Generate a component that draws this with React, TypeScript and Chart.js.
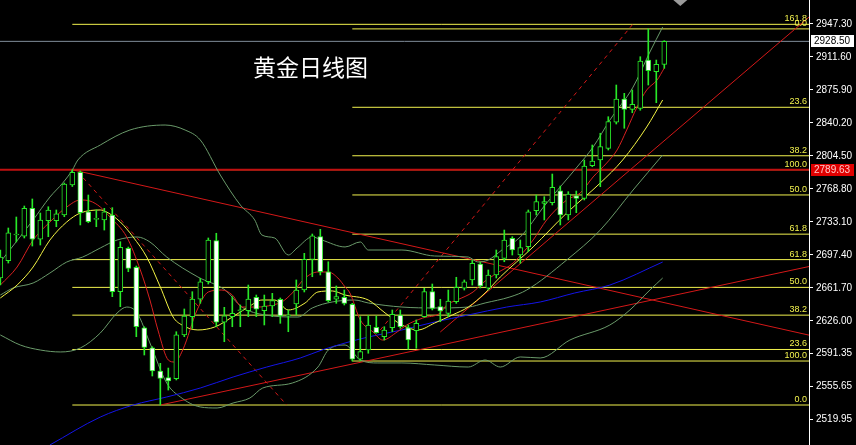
import React, { useEffect, useRef } from 'react';
import { Chart, registerables } from 'chart.js';

Chart.register(...registerables);

// ---------- candles (daily gold) ----------
const candleOpen = [
  2672.5, 2691.2, 2719.0, 2717.9, 2747.9, 2714.4, 2734.5, 2734.5, 2740.7, 2773.1,
  2786.9, 2744.2, 2735.9, 2735.3, 2740.7, 2657.7, 2704.6, 2684.1, 2618.7, 2597.1,
  2571.9, 2564.7, 2563.6, 2610.9, 2630.7, 2649.5, 2668.5, 2712.9, 2624.6, 2630.7,
  2637.1, 2637.1, 2651.6, 2637.1, 2642.2, 2649.5, 2631.4, 2644.4, 2659.5, 2692.7,
  2717.2, 2679.3, 2649.5, 2651.6, 2644.1, 2584.6, 2594.6, 2619.2, 2609.0, 2618.7,
  2632.5, 2618.7, 2615.5, 2630.7, 2657.7, 2641.5, 2634.3, 2646.9, 2661.4, 2670.4,
  2687.7, 2661.4, 2675.8, 2693.8, 2715.5, 2697.4, 2706.4, 2745.3, 2753.3, 2753.9,
  2766.9, 2740.7, 2761.5, 2758.7, 2794.0, 2800.2, 2812.8, 2841.0, 2866.2, 2855.0,
  2856.1, 2908.3, 2895.7, 2903.7,
];
const candleHigh = [
  2702.8, 2726.6, 2738.5, 2750.4, 2758.0, 2742.8, 2749.6, 2746.1, 2775.3, 2789.6,
  2788.3, 2762.3, 2746.1, 2747.9, 2748.6, 2711.8, 2706.0, 2685.5, 2619.8, 2598.2,
  2580.2, 2575.1, 2614.4, 2639.0, 2657.7, 2672.2, 2715.8, 2720.9, 2640.8, 2652.3,
  2643.3, 2664.9, 2654.1, 2654.1, 2655.9, 2650.9, 2637.9, 2670.4, 2699.2, 2720.1,
  2725.2, 2690.1, 2663.9, 2659.5, 2645.1, 2630.7, 2631.7, 2631.4, 2619.8, 2637.9,
  2637.9, 2621.7, 2627.1, 2661.4, 2666.0, 2649.5, 2659.5, 2673.3, 2670.4, 2692.0,
  2689.8, 2681.2, 2702.8, 2724.4, 2717.2, 2713.6, 2746.1, 2762.3, 2760.5, 2785.0,
  2772.0, 2765.9, 2766.6, 2800.2, 2816.4, 2829.1, 2847.0, 2881.3, 2872.3, 2875.9,
  2911.9, 2942.0, 2908.3, 2929.2,
];
const candleLow = [
  2664.9, 2688.7, 2711.5, 2715.8, 2707.1, 2708.2, 2717.2, 2728.0, 2738.8, 2771.5,
  2729.9, 2732.3, 2728.0, 2724.4, 2652.3, 2641.5, 2679.3, 2609.0, 2589.2, 2566.5,
  2535.1, 2551.3, 2562.2, 2609.0, 2618.1, 2645.1, 2666.0, 2619.8, 2603.6, 2619.8,
  2619.8, 2630.7, 2630.7, 2621.7, 2630.7, 2623.5, 2614.4, 2632.5, 2657.4, 2673.9,
  2675.8, 2646.6, 2645.1, 2643.3, 2582.7, 2583.0, 2591.1, 2612.7, 2605.4, 2614.4,
  2618.1, 2595.4, 2596.5, 2630.0, 2637.9, 2625.2, 2630.7, 2645.1, 2659.5, 2664.9,
  2661.7, 2659.5, 2672.5, 2690.1, 2697.4, 2688.4, 2700.9, 2740.7, 2735.3, 2751.5,
  2729.9, 2735.3, 2743.2, 2756.9, 2792.9, 2771.3, 2811.0, 2839.1, 2834.5, 2851.3,
  2854.0, 2881.3, 2862.2, 2899.4,
];
const candleClose = [
  2695.2, 2721.5, 2720.1, 2747.9, 2714.4, 2735.3, 2746.1, 2741.8, 2774.2, 2786.9,
  2743.2, 2733.4, 2736.6, 2744.2, 2657.7, 2705.7, 2683.0, 2619.8, 2597.5, 2571.9,
  2564.0, 2561.1, 2610.9, 2631.4, 2649.8, 2668.5, 2713.6, 2624.6, 2631.7, 2634.3,
  2637.9, 2649.8, 2638.7, 2642.2, 2648.0, 2631.4, 2632.2, 2659.5, 2692.7, 2718.0,
  2679.3, 2648.0, 2652.3, 2645.1, 2584.6, 2592.8, 2621.7, 2613.3, 2616.2, 2633.2,
  2619.8, 2605.4, 2623.5, 2657.7, 2639.7, 2636.8, 2647.6, 2662.5, 2668.5, 2688.4,
  2663.9, 2675.8, 2695.6, 2713.6, 2702.8, 2705.3, 2744.2, 2755.1, 2755.1, 2770.6,
  2740.7, 2763.4, 2758.7, 2793.7, 2799.1, 2814.6, 2841.6, 2866.2, 2855.0, 2860.4,
  2907.3, 2896.8, 2903.7, 2928.5,
];

// ---------- price axis ----------
const yTickValues = [
  2947.30, 2911.60, 2875.90, 2840.20, 2804.50, 2768.80, 2733.10,
  2697.40, 2661.70, 2626.00, 2591.35, 2555.65, 2519.95,
];
const Y_MAX = 2973.26;
const Y_MIN = 2491.85;
const X_MIN = -0.04;
const X_MAX = 101.09;

// ---------- indicators (x = bar index) ----------
const maRedX = [0, 2.1, 4.1, 6.2, 8.3, 10, 11.2, 12.5, 13.7, 15.8, 17.5, 18.7, 19.7, 21, 21.8, 22.8, 24.6, 26, 27.7, 29, 30.2, 32.2, 34, 35.2, 36.5, 38.1, 39.7, 41, 42.2, 43.1, 43.7, 45, 46.6, 47.8, 49.6, 50.8, 52.8, 55, 55.8, 57.1, 59.1, 60.3, 62.1, 64.1, 66.6, 68.3, 70.8, 72.5, 74.1, 75.8, 77.1, 78.3, 79.6, 80.8, 82.1, 83];
const maRedY = [2664.9, 2684.4, 2713.6, 2733.1, 2749.3, 2756.9, 2755.8, 2749.3, 2738.5, 2716.9, 2681.2, 2648.7, 2616.3, 2583.8, 2581.6, 2594.6, 2637.9, 2657.4, 2659.5, 2654.1, 2641.1, 2641.1, 2643.3, 2646.6, 2656.3, 2672.5, 2679.0, 2679.0, 2672.5, 2662.8, 2656.3, 2627.1, 2614.1, 2605.4, 2614.1, 2621.7, 2629.2, 2634.7, 2643.3, 2648.7, 2657.4, 2667.1, 2677.9, 2688.7, 2713.6, 2735.3, 2756.9, 2764.5, 2781.8, 2796.9, 2811.0, 2832.6, 2857.5, 2875.9, 2886.7, 2899.7];

const maYellowX = [0, 2.1, 4.1, 6.2, 8.3, 10, 12.5, 13.3, 15, 16.6, 18.3, 20, 21.6, 22.7, 24.7, 26.8, 29, 31, 32.7, 34.3, 36, 38.1, 39.7, 41.5, 43.1, 46, 48.1, 50.2, 52.2, 54.3, 56.5, 58.5, 60.6, 62.5, 66.6, 70.8, 75, 77.8, 80.8, 82.8];
const maYellowY = [2650.9, 2664.9, 2684.4, 2713.6, 2733.1, 2742.8, 2746.1, 2743.9, 2733.1, 2716.9, 2695.2, 2662.8, 2630.3, 2621.7, 2616.3, 2619.5, 2630.3, 2641.1, 2648.7, 2648.7, 2637.9, 2645.5, 2657.4, 2658.5, 2654.1, 2648.7, 2634.7, 2621.7, 2616.3, 2623.8, 2632.5, 2641.1, 2656.3, 2673.6, 2706.1, 2742.8, 2775.3, 2800.2, 2835.9, 2865.1];

const maBlueX = [6.2, 12.5, 16.6, 20.8, 25, 29.1, 33.3, 37.5, 40.2, 43.1, 46, 50.2, 54.3, 58.5, 63.3, 67.5, 71.8, 76.2, 82.8];
const maBlueY = [2491.9, 2522.1, 2535.1, 2543.8, 2553.5, 2565.4, 2576.2, 2586.0, 2594.6, 2602.2, 2608.7, 2616.3, 2624.9, 2632.5, 2641.1, 2646.6, 2656.3, 2664.9, 2689.8];

const bbUpperX = [0.2, 4.1, 6.2, 7.8, 9, 9.7, 12.5, 16.2, 20.6, 23.1, 25, 27.5, 30, 31.8, 32.7, 34.3, 36, 37.1, 39, 40.2, 43.1, 45, 46, 50.2, 54.3, 58.5, 59.7, 61, 62.7, 65, 68.1, 72.1, 74.1, 76.2, 79.1, 81.2, 82.8];
const bbUpperY = [2692.0, 2735.3, 2760.1, 2775.3, 2789.3, 2800.2, 2816.4, 2832.6, 2838.0, 2832.6, 2821.8, 2783.9, 2751.5, 2735.3, 2719.0, 2715.8, 2697.4, 2705.0, 2716.9, 2713.6, 2706.1, 2711.5, 2702.8, 2702.8, 2696.3, 2695.2, 2689.8, 2692.0, 2702.8, 2716.9, 2751.5, 2792.6, 2814.2, 2843.4, 2879.1, 2917.0, 2944.1];

const bbMidX = [0, 1.6, 4.1, 6.2, 8.3, 10.3, 12.5, 14.6, 17.1, 18.7, 20.8, 24.7, 28.1, 30.2, 33.1, 37.2, 39, 41.5, 44.3, 46, 50.2, 54.3, 58.5, 60.6, 63.7, 65.8, 70.8, 75, 79.1, 82.8];
const bbMidY = [2654.1, 2661.7, 2667.1, 2677.9, 2689.8, 2695.2, 2705.0, 2713.6, 2716.9, 2711.5, 2695.2, 2673.6, 2659.5, 2641.1, 2632.5, 2630.3, 2640.1, 2646.6, 2648.7, 2645.5, 2641.1, 2640.1, 2641.1, 2645.5, 2652.0, 2659.5, 2692.0, 2724.4, 2767.7, 2805.6];

const bbLowerX = [0, 2.5, 5, 7.5, 10, 12.5, 14.6, 15.8, 17.1, 18.7, 20.8, 22.5, 25, 27.1, 29.1, 31.2, 32.8, 36.5, 39.7, 41, 43.1, 45, 47.2, 50.2, 54.3, 58.5, 60.6, 62.5, 65, 67.5, 71.2, 76.2, 78.7, 81.2, 82.8];
const bbLowerY = [2610.9, 2600.0, 2594.6, 2592.5, 2596.8, 2613.0, 2634.7, 2641.1, 2634.7, 2602.2, 2558.9, 2543.8, 2533.0, 2531.9, 2537.3, 2542.7, 2553.5, 2558.9, 2576.2, 2594.6, 2600.0, 2583.8, 2580.6, 2580.6, 2578.4, 2576.2, 2583.8, 2576.2, 2587.1, 2586.0, 2605.4, 2621.7, 2637.9, 2659.5, 2672.5];

// ---------- drawn objects ----------
const trendAX = [9, 101.5];
const trendAY = [2789.6, 2609.9];
const trendBX = [20, 101.5];
const trendBY = [2535.1, 2685.7];
const trendCX = [55, 101.5];
const trendCY = [2614.1, 2957.8];
const dashAX = [9.7, 35.8];
const dashAY = [2787.2, 2535.1];
const dashBX = [47.5, 79.3];
const dashBY = [2616.3, 2949.5];

const resistPrice = 2789.63;
const lastPrice = 2928.5;

const fibALabels = ['0.0', '23.6', '38.2', '50.0', '61.8', '100.0', '161.8'];
const fibAPrices = [2535.1, 2595.17, 2632.33, 2662.37, 2692.4, 2789.63, 2946.93];
const fibAStart = 9;
const fibBLabels = ['0.0', '23.6', '38.2', '50.0', '61.8', '100.0'];
const fibBPrices = [2942.0, 2857.2, 2804.75, 2762.35, 2719.95, 2582.7];
const fibBStart = 44;
const shiftMarkIndex = 85;

const chartTitle = '黄金日线图';

// ---------- styles ----------
const GREEN = '#28e828';
const FIB = '#f2f24e';
const RED_LINE = '#d41818';

export default function App() {
  const ref = useRef<HTMLCanvasElement | null>(null);

  useEffect(() => {
    if (!ref.current) return;
    const xy = (xs: number[], ys: number[]) => xs.map((x, i) => ({ x, y: ys[i] }));
    const line = (xs: number[], ys: number[], color: string, extra: any = {}) => ({
      type: 'line',
      data: xy(xs, ys),
      borderColor: color,
      borderWidth: 1,
      pointRadius: 0,
      fill: false,
      tension: 0,
      order: 5,
      ...extra,
    });
    const ma = (xs: number[], ys: number[], color: string) =>
      line(xs, ys, color, { cubicInterpolationMode: 'monotone', order: 3 });

    const fibSets: any[] = [];
    fibAPrices.forEach((p) => fibSets.push(line([fibAStart, X_MAX + 1], [p, p], FIB, { order: 8 })));
    fibBPrices.forEach((p) => fibSets.push(line([fibBStart, X_MAX + 1], [p, p], FIB, { order: 8 })));

    const up = candleOpen.map((o, i) => candleClose[i] >= o);

    const overlay = {
      id: 'overlay',
      afterDraw(chart: any) {
        const { ctx, chartArea } = chart;
        const y = chart.scales.y;
        const x = chart.scales.x;
        ctx.save();
        // fib labels
        ctx.font = '9px "Liberation Sans", Arial, sans-serif';
        ctx.fillStyle = FIB;
        ctx.textAlign = 'right';
        ctx.textBaseline = 'bottom';
        fibAPrices.forEach((p, i) => ctx.fillText(fibALabels[i], chartArea.right - 2, y.getPixelForValue(p) - 1));
        fibBPrices.forEach((p, i) => ctx.fillText(fibBLabels[i], chartArea.right - 2, y.getPixelForValue(p) - 1));
        // price boxes
        const box = (price: number, bg: string, fg: string) => {
          const py = Math.round(y.getPixelForValue(price));
          ctx.fillStyle = bg;
          ctx.fillRect(chartArea.right + 2, py - 6, 43, 12);
          ctx.fillStyle = fg;
          ctx.font = '10px "Liberation Sans", Arial, sans-serif';
          ctx.textAlign = 'left';
          ctx.textBaseline = 'middle';
          ctx.fillText(price.toFixed(2), chartArea.right + 5, py + 0.5);
        };
        box(lastPrice, '#ffffff', '#000000');
        box(resistPrice, '#e00000', '#ffc8c8');
        // chart shift marker
        const mx = x.getPixelForValue(shiftMarkIndex);
        ctx.fillStyle = '#9a9a9a';
        ctx.beginPath();
        ctx.moveTo(mx - 7, 0);
        ctx.lineTo(mx + 7, 0);
        ctx.lineTo(mx, 6);
        ctx.closePath();
        ctx.fill();
        ctx.restore();
      },
    };

    const chart = new Chart(ref.current, {
      type: 'line',
      data: {
        datasets: [
          {
            type: 'bar',
            data: candleOpen.map((o, i) => ({ x: i, y: [o, candleClose[i]] })),
            backgroundColor: up.map((u) => (u ? '#000000' : '#ffffff')),
            borderColor: GREEN,
            borderWidth: 1,
            borderSkipped: false,
            barThickness: 5,
            minBarLength: 1,
            grouped: false,
            order: 0,
          },
          {
            type: 'bar',
            data: candleLow.map((l, i) => ({ x: i, y: [l, candleHigh[i]] })),
            backgroundColor: GREEN,
            borderWidth: 0,
            barThickness: 1,
            grouped: false,
            order: 1,
          },
          ma(maRedX, maRedY, '#d82020'),
          ma(maYellowX, maYellowY, '#f4f444'),
          ma(maBlueX, maBlueY, '#1414e8'),
          ma(bbUpperX, bbUpperY, '#6a9a6a'),
          ma(bbMidX, bbMidY, '#6a9a6a'),
          ma(bbLowerX, bbLowerY, '#6a9a6a'),
          line(trendAX, trendAY, RED_LINE),
          line(trendBX, trendBY, RED_LINE),
          line(trendCX, trendCY, RED_LINE),
          line(dashAX, dashAY, RED_LINE, { borderDash: [4, 4] }),
          line(dashBX, dashBY, RED_LINE, { borderDash: [4, 4] }),
          line([X_MIN - 1, X_MAX + 1], [resistPrice, resistPrice], '#c01010', { borderWidth: 2, order: 6 }),
          line([X_MIN - 1, X_MAX + 1], [lastPrice, lastPrice], '#7f8c99', { order: 6 }),
          ...fibSets,
        ] as any,
      },
      options: {
        animation: false,
        responsive: false,
        events: [],
        layout: { padding: 0 },
        plugins: { legend: { display: false }, tooltip: { enabled: false } },
        scales: {
          x: { type: 'linear', min: X_MIN, max: X_MAX, display: false, offset: false },
          y: {
            type: 'linear',
            position: 'right',
            min: Y_MIN,
            max: Y_MAX,
            afterBuildTicks: (s: any) => {
              s.ticks = yTickValues.map((v) => ({ value: v }));
            },
            afterFit: (s: any) => {
              s.width = 47;
              s.paddingTop = 0;
              s.paddingBottom = 0;
            },
            ticks: {
              color: '#ffffff',
              autoSkip: false,
              padding: 3,
              font: { family: '"Liberation Sans", Arial, sans-serif', size: 10 },
              callback: (v: any) => Number(v).toFixed(2),
            },
            grid: { drawOnChartArea: false, drawTicks: true, tickLength: 4, tickColor: '#ffffff', color: '#ffffff' },
            border: { display: true, color: '#ffffff', width: 1 },
          },
        },
      } as any,
      plugins: [overlay],
    });
    return () => chart.destroy();
  }, []);

  return (
    <div style={{ position: 'fixed', left: 0, top: 0, width: 856, height: 445, background: '#000' }}>
      <canvas ref={ref} width={856} height={445} style={{ display: 'block', background: '#000' }} />
      <div
        style={{
          position: 'absolute',
          left: 253,
          top: 54,
          color: '#ffffff',
          fontFamily: '"Noto Sans CJK SC", sans-serif',
          fontSize: 23,
          lineHeight: '24px',
          whiteSpace: 'nowrap',
        }}
      >
        {chartTitle}
      </div>
    </div>
  );
}
